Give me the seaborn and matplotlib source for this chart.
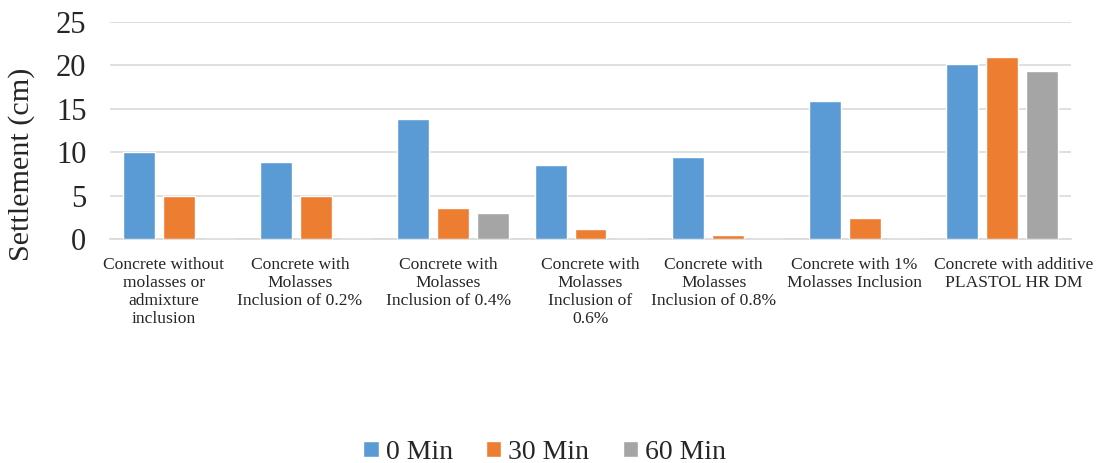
import matplotlib
matplotlib.use("Agg")
import matplotlib.pyplot as plt
import matplotlib.transforms as mtransforms
import seaborn as sns
import pandas as pd
import numpy as np

categories = [
    "Concrete without\nmolasses or\nadmixture\ninclusion",
    "Concrete with\nMolasses\nInclusion of 0.2%",
    "Concrete with\nMolasses\nInclusion of 0.4%",
    "Concrete with\nMolasses\nInclusion of\n0.6%",
    "Concrete with\nMolasses\nInclusion of 0.8%",
    "Concrete with 1%\nMolasses Inclusion",
    "Concrete with additive\nPLASTOL HR DM",
]
series_names = ["0 Min", "30 Min", "60 Min"]
min0 = [10.0, 8.9, 13.8, 8.5, 9.5, 15.9, 20.1]
min30 = [5.0, 5.0, 3.55, 1.2, 0.55, 2.5, 20.9]
min60 = [0.0, 0.0, 3.05, 0.0, 0.0, 0.0, 19.3]
yticks = [0, 5, 10, 15, 20, 25]

# horizontal nudges of the wrapped category labels (pixels), layout only
label_nudge_px = [-15, -16, -5, 0, -14, -11, 11]

rows = []
for name, vals in zip(series_names, [min0, min30, min60]):
    for c, v in zip(categories, vals):
        rows.append({"Category": c, "Series": name, "Value": v})
df = pd.DataFrame(rows)

sns.set_style("white")
plt.rcParams["font.family"] = ["Liberation Serif", "DejaVu Serif"]

W, H = 1096, 463
fig = plt.figure(figsize=(W / 100, H / 100), dpi=100)
ax = fig.add_axes([110 / W, 1 - 239.3 / H, (1071 - 110) / W, (239.3 - 21.8) / H])

palette = {"0 Min": "#5B9BD5", "30 Min": "#ED7D31", "60 Min": "#A5A5A5"}
sns.barplot(data=df, x="Category", y="Value", hue="Series", palette=palette,
            order=categories, hue_order=series_names, width=0.874, gap=0.2,
            saturation=1, errorbar=None, ax=ax, zorder=3)

ax.set_ylim(0, 25)
ax.set_yticks(yticks)
ax.set_xlim(-0.5, len(categories) - 0.5)
ax.yaxis.grid(True, color="#d9d9d9", linewidth=1.2, zorder=0)
ax.set_axisbelow(True)
for s in ["top", "right", "left"]:
    ax.spines[s].set_visible(False)
ax.spines["bottom"].set_color("#d9d9d9")
ax.spines["bottom"].set_linewidth(1.2)
ax.tick_params(axis="both", length=0)
ax.tick_params(axis="y", labelsize=22, pad=17)
ax.tick_params(axis="x", labelsize=12.6, pad=13)
for lbl, dx in zip(ax.get_xticklabels(), label_nudge_px):
    lbl.set_linespacing(1.17)
    lbl.set_horizontalalignment("center")
    lbl.set_transform(lbl.get_transform() +
                      mtransforms.ScaledTranslation(dx / 100, 0, fig.dpi_scale_trans))
ax.set_xlabel("")
ax.set_ylabel("Settlement (cm)", fontsize=21.7)
ax.yaxis.set_label_coords(-0.078, 0.346)

handles, labels = ax.get_legend_handles_labels()
ax.legend_.remove()
fig.legend(handles, labels, loc="lower center", bbox_to_anchor=(0.497, -0.058), ncol=3,
           frameon=False, fontsize=20, handlelength=0.55, handleheight=0.55,
           handletextpad=0.25, columnspacing=1.2)

fig.savefig("out.png", dpi=100)
